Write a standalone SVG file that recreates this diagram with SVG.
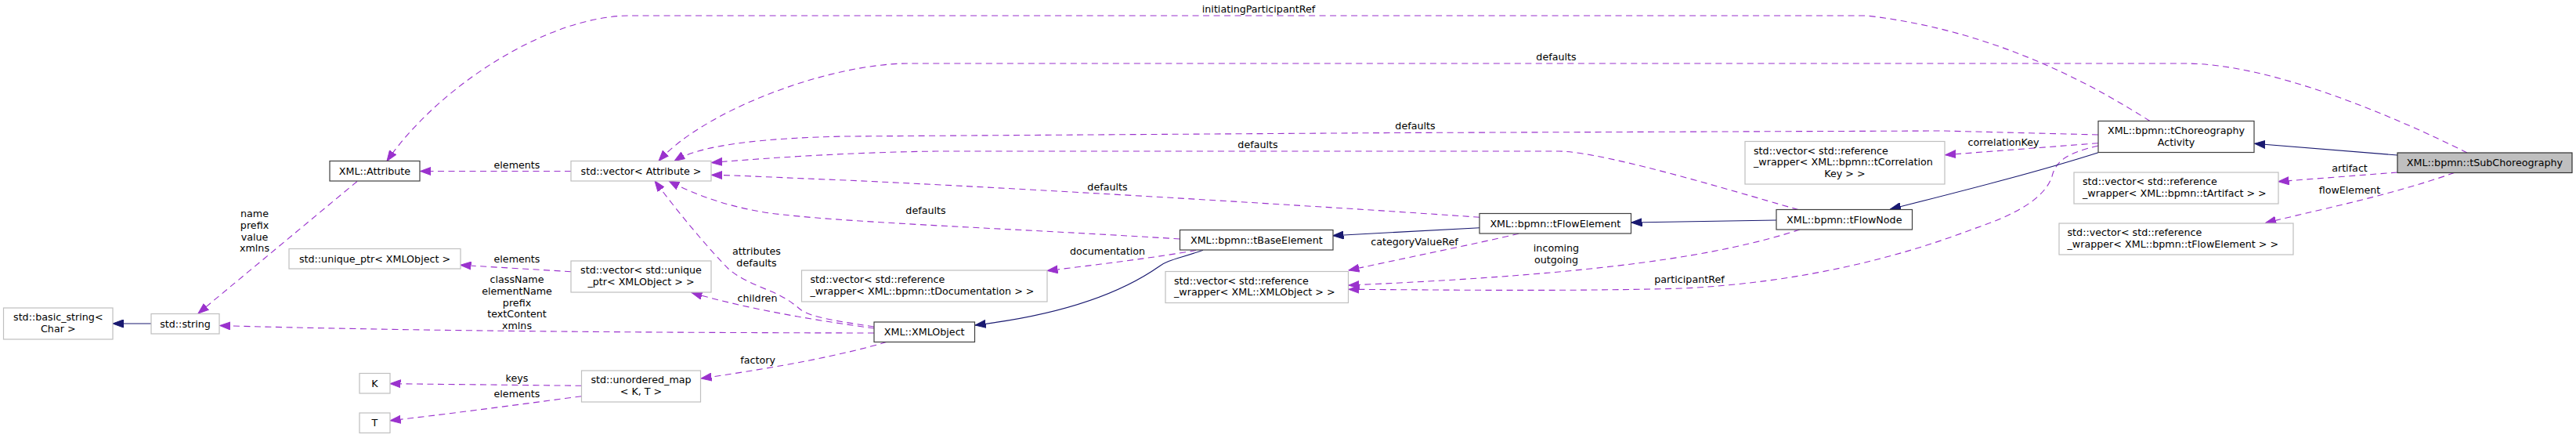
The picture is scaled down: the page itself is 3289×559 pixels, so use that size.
<svg xmlns="http://www.w3.org/2000/svg" width="3289" height="559" viewBox="0 0 3289 559">
<style>
text{font-family:"DejaVu Sans",Verdana,sans-serif;font-size:12.7px;fill:#000}
.c{text-anchor:middle}
.n rect{fill:#fff;stroke:#404040;stroke-width:1.2}
.u rect{fill:#fff;stroke:#bfbfbf;stroke-width:1.2}
.cur rect{fill:#bfbfbf;stroke:#303030;stroke-width:1.2}
.d{fill:none;stroke:#9a32cd;stroke-width:1.1;stroke-dasharray:8,5.5;marker-end:url(#ap)}
.s{fill:none;stroke:#191970;stroke-width:1.1;marker-end:url(#an)}
</style>
<defs>
<marker id="ap" markerUnits="userSpaceOnUse" markerWidth="14" markerHeight="11" refX="13.5" refY="5.5" orient="auto" viewBox="0 0 14 11"><path d="M0,0.5 L13.5,5.5 L0,10.5 z" fill="#9a32cd" stroke="#9a32cd" stroke-width="1"/></marker>
<marker id="an" markerUnits="userSpaceOnUse" markerWidth="14" markerHeight="11" refX="13.5" refY="5.5" orient="auto" viewBox="0 0 14 11"><path d="M0,0.5 L13.5,5.5 L0,10.5 z" fill="#191970" stroke="#191970" stroke-width="1"/></marker>
</defs>
<rect x="0" y="0" width="3289" height="559" fill="#fff"/>
<g id="edges">
<path class="s" d="M193,413 L144,413"/>
<path class="d" d="M456,231.5 L253,400"/>
<path class="d" d="M729,218.5 L536.5,218.5"/>
<path class="d" d="M2745,154.5 C2690,120 2560,40 2383,20 L804,20 C700,20 560,110 494,205.5"/>
<path class="d" d="M3150,195 C3060,150 2900,81 2790,81 L1160,81 C1060,81 900,140 841,205.5"/>
<path class="d" d="M2679,172 L2480,167 L1780,169.5 L1080,174 C980,176 895,184 861,205.5"/>
<path class="d" d="M2296,267.5 C2250,255 2050,193 1990,193 L1200,193 C1100,194 1000,200 908.5,207.5"/>
<path class="d" d="M1889,277.3 C1700,264 1300,240 1080,230 C1000,227 950,224 908.5,223.3"/>
<path class="d" d="M1506.5,305 C1300,292 1100,285 1000,274 C940,268 890,250 854,231"/>
<path class="d" d="M1116,417 C1070,410 1035,405 1022,395 C1010,385 1000,378 980,370 C955,360 940,352 930,343 C905,318 865,270 836,231"/>
<path class="d" d="M1116,419 C1050,410 960,396 883,373.5"/>
<path class="d" d="M1116,425 C800,424.5 500,422 280.5,415.5"/>
<path class="d" d="M1131.7,436.5 C1080,452 1000,468 895,483"/>
<path class="s" d="M1536,319.3 C1505,330 1490,332 1480,340 C1440,368 1370,400 1245,415"/>
<path class="d" d="M1527,319.5 C1480,328 1400,338 1337,345.5"/>
<path class="s" d="M1889,290.7 L1702,300.7"/>
<path class="s" d="M2268,281 L2083,284"/>
<path class="d" d="M1939,298.3 C1880,312 1800,328 1722,345"/>
<path class="d" d="M2298,293 C2200,325 2050,350 1722,364"/>
<path class="d" d="M2679,186 C2640,195 2625,205 2620,225 C2610,255 2570,275 2520,292 C2420,330 2300,360 2150,368 C2000,372 1850,370 1722,369.3"/>
<path class="d" d="M2679,182.7 L2483.5,197.7"/>
<path class="s" d="M2679,194.7 C2600,220 2500,245 2413.5,267"/>
<path class="s" d="M3061,198 L2878.5,183.3"/>
<path class="d" d="M3061,220 L2909,231.7"/>
<path class="d" d="M3133.6,220.5 C3050,250 2950,270 2892.6,284.5"/>
<path class="d" d="M742.5,492.3 L498,489.7"/>
<path class="d" d="M742.5,505.7 C650,518 560,530 498,536.7"/>
<path class="d" d="M729,346.7 L588,338.3"/>
<g class="c">
<text x="325" y="277">name</text>
<text x="325" y="292">prefix</text>
<text x="325" y="306.5">value</text>
<text x="325" y="321">xmlns</text>
<text x="660" y="215">elements</text>
<text x="1607" y="16">initiatingParticipantRef</text>
<text x="1987" y="77">defaults</text>
<text x="1807" y="164.5">defaults</text>
<text x="1606" y="188.5">defaults</text>
<text x="1414" y="242.5">defaults</text>
<text x="1182" y="272.5">defaults</text>
<text x="966" y="325">attributes</text>
<text x="966" y="339.5">defaults</text>
<text x="967" y="385">children</text>
<text x="660" y="361">className</text>
<text x="660" y="375.7">elementName</text>
<text x="660" y="390.5">prefix</text>
<text x="660" y="405.2">textContent</text>
<text x="660" y="420">xmlns</text>
<text x="967.6" y="463.5">factory</text>
<text x="1414" y="325">documentation</text>
<text x="1806" y="312.5">categoryValueRef</text>
<text x="1987" y="321">incoming</text>
<text x="1987" y="336">outgoing</text>
<text x="2157" y="361">participantRef</text>
<text x="2558" y="185.5">correlationKey</text>
<text x="3000" y="218.5">artifact</text>
<text x="3000" y="247">flowElement</text>
<text x="660" y="486.5">keys</text>
<text x="660" y="506.5">elements</text>
<text x="660" y="335">elements</text>
</g>
</g>
<g id="node-attribute" class="n"><rect x="421" y="205.5" width="115" height="25.5"/><text class="c" x="478.5" y="222.5">XML::Attribute</text></g>
<g id="node-vector-attribute" class="u"><rect x="729" y="205.5" width="179" height="25.5"/><text class="c" x="818.5" y="222.5">std::vector&lt; Attribute &gt;</text></g>
<g id="node-string" class="u"><rect x="193" y="400.5" width="87" height="25.5"/><text class="c" x="236.5" y="417.5">std::string</text></g>
<g id="node-basic-string" class="u"><rect x="4.5" y="393" width="139.5" height="40"/><text class="c" x="74.3" y="409">std::basic_string&lt;</text><text class="c" x="74.3" y="423.5">Char &gt;</text></g>
<g id="node-K" class="u"><rect x="459" y="476.5" width="39" height="25.5"/><text class="c" x="478.5" y="493.5">K</text></g>
<g id="node-T" class="u"><rect x="459" y="527" width="39" height="25.5"/><text class="c" x="478.5" y="544">T</text></g>
<g id="node-unique-ptr" class="u"><rect x="369" y="317.5" width="219" height="25.5"/><text class="c" x="478.5" y="334.5">std::unique_ptr&lt; XMLObject &gt;</text></g>
<g id="node-vector-unique" class="u"><rect x="729" y="333" width="179" height="40"/><text class="c" x="818.5" y="349">std::vector&lt; std::unique</text><text class="c" x="818.5" y="364">_ptr&lt; XMLObject &gt; &gt;</text></g>
<g id="node-unordered-map" class="u"><rect x="742.5" y="473" width="152" height="40"/><text class="c" x="818.5" y="489">std::unordered_map</text><text class="c" x="818.5" y="504">&lt; K, T &gt;</text></g>
<g id="node-ref-documentation" class="u"><rect x="1023.5" y="345" width="313.5" height="40"/><text x="1034.5" y="361">std::vector&lt; std::reference</text><text x="1034.5" y="376">_wrapper&lt; XML::bpmn::tDocumentation &gt; &gt;</text></g>
<g id="node-xmlobject" class="n"><rect x="1116" y="411" width="128.5" height="25.5"/><text class="c" x="1180.2" y="428">XML::XMLObject</text></g>
<g id="node-ref-xmlobject" class="u"><rect x="1488" y="346.5" width="233.5" height="40"/><text x="1499" y="362.5">std::vector&lt; std::reference</text><text x="1499" y="377">_wrapper&lt; XML::XMLObject &gt; &gt;</text></g>
<g id="node-tbaseelement" class="n"><rect x="1506.5" y="293.5" width="195.5" height="25.5"/><text class="c" x="1604.3" y="310.5">XML::bpmn::tBaseElement</text></g>
<g id="node-tflowelement" class="n"><rect x="1889" y="272.5" width="193.5" height="25.5"/><text class="c" x="1985.8" y="289.5">XML::bpmn::tFlowElement</text></g>
<g id="node-tflownode" class="n"><rect x="2268" y="267.5" width="173.5" height="25.5"/><text class="c" x="2354.8" y="284.5">XML::bpmn::tFlowNode</text></g>
<g id="node-ref-correlationkey" class="u"><rect x="2228" y="180.5" width="255" height="54.5"/><text x="2239" y="197">std::vector&lt; std::reference</text><text x="2239" y="211">_wrapper&lt; XML::bpmn::tCorrelation</text><text class="c" x="2355.5" y="225.5">Key &gt; &gt;</text></g>
<g id="node-tchoreographyactivity" class="n"><rect x="2679" y="154.5" width="199" height="40"/><text class="c" x="2778.5" y="171">XML::bpmn::tChoreography</text><text class="c" x="2778.5" y="185.5">Activity</text></g>
<g id="node-tsubchoreography" class="cur"><rect x="3061" y="195" width="223" height="25.5"/><text class="c" x="3172.5" y="212">XML::bpmn::tSubChoreography</text></g>
<g id="node-ref-artifact" class="u"><rect x="2648" y="220" width="261" height="40"/><text x="2659" y="236">std::vector&lt; std::reference</text><text x="2659" y="251">_wrapper&lt; XML::bpmn::tArtifact &gt; &gt;</text></g>
<g id="node-ref-flowelement" class="u"><rect x="2629" y="285" width="299" height="40"/><text x="2639.5" y="301">std::vector&lt; std::reference</text><text x="2639.5" y="316">_wrapper&lt; XML::bpmn::tFlowElement &gt; &gt;</text></g>
</svg>
